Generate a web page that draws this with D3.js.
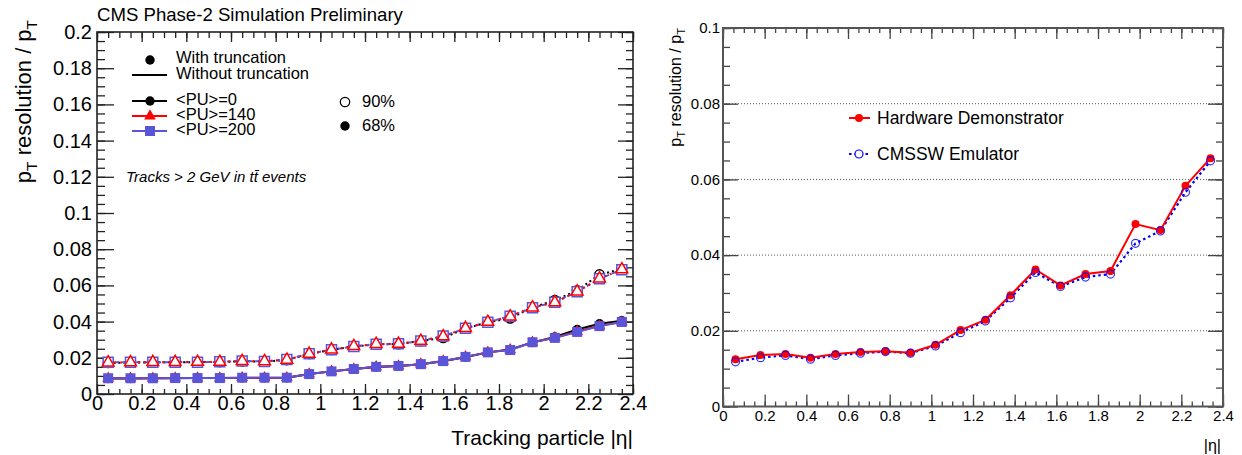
<!DOCTYPE html>
<html>
<head>
<meta charset="utf-8">
<script src="https://cdn.jsdelivr.net/npm/d3@7"></script>
<style>
  body { margin: 0; background: #fff; }
  svg { font-family: "Liberation Sans", Arial, sans-serif; }
</style>
</head>
<body>
<svg id="mySVG" width="1242" height="455"></svg>
<script>
// ---- data: left panel (truncation study) ----
const etaLeft = [0.05, 0.15, 0.25, 0.35, 0.45, 0.55, 0.65, 0.75, 0.85, 0.95, 1.05, 1.15,
                 1.25, 1.35, 1.45, 1.55, 1.65, 1.75, 1.85, 1.95, 2.05, 2.15, 2.25, 2.35];
const res68pu0   = [0.0086, 0.0086, 0.0087, 0.0087, 0.0088, 0.0088, 0.0089, 0.0089, 0.0090, 0.0110, 0.0125, 0.0138,
                    0.0149, 0.0155, 0.0164, 0.0181, 0.0205, 0.0230, 0.0246, 0.0285, 0.0315, 0.0356, 0.0388, 0.0405];
const res68pu140 = [0.0087, 0.0087, 0.0087, 0.0088, 0.0088, 0.0088, 0.0090, 0.0090, 0.0090, 0.0110, 0.0125, 0.0138,
                    0.0150, 0.0155, 0.0165, 0.0182, 0.0205, 0.0230, 0.0244, 0.0286, 0.0311, 0.0345, 0.0377, 0.0398];
const res68pu200 = [0.0087, 0.0087, 0.0087, 0.0088, 0.0088, 0.0088, 0.0090, 0.0090, 0.0090, 0.0110, 0.0125, 0.0138,
                    0.0150, 0.0155, 0.0165, 0.0182, 0.0205, 0.0230, 0.0243, 0.0286, 0.0310, 0.0343, 0.0375, 0.0398];
const res90pu0   = [0.0172, 0.0174, 0.0175, 0.0176, 0.0176, 0.0177, 0.0181, 0.0179, 0.0188, 0.0222, 0.0244, 0.0262,
                    0.0274, 0.0276, 0.0292, 0.0310, 0.0362, 0.0396, 0.0418, 0.0478, 0.0518, 0.0572, 0.0660, 0.0690];
const res90pu140 = [0.0174, 0.0175, 0.0176, 0.0176, 0.0177, 0.0177, 0.0182, 0.0181, 0.0189, 0.0222, 0.0245, 0.0264,
                    0.0276, 0.0277, 0.0293, 0.0318, 0.0364, 0.0398, 0.0428, 0.0478, 0.0506, 0.0566, 0.0638, 0.0688];
const res90pu200 = [0.0175, 0.0175, 0.0175, 0.0176, 0.0176, 0.0178, 0.0182, 0.0180, 0.0190, 0.0223, 0.0245, 0.0263,
                    0.0275, 0.0277, 0.0293, 0.0320, 0.0363, 0.0397, 0.0430, 0.0477, 0.0507, 0.0565, 0.0637, 0.0687];
const leftXTicks = [0, 0.2, 0.4, 0.6, 0.8, 1, 1.2, 1.4, 1.6, 1.8, 2, 2.2, 2.4];
const leftYTicks = [0, 0.02, 0.04, 0.06, 0.08, 0.1, 0.12, 0.14, 0.16, 0.18, 0.2];

// ---- data: right panel (hardware vs emulator) ----
const etaRight = [0.06, 0.18, 0.30, 0.42, 0.54, 0.66, 0.78, 0.90, 1.02, 1.14,
                  1.26, 1.38, 1.50, 1.62, 1.74, 1.86, 1.98, 2.10, 2.22, 2.34];
const hardware = [0.0125, 0.0136, 0.0139, 0.0129, 0.0139, 0.0144, 0.0146, 0.0142, 0.0163, 0.0202,
                  0.0229, 0.0294, 0.0362, 0.0320, 0.0350, 0.0358, 0.0482, 0.0466, 0.0583, 0.0656];
const emulator = [0.0118, 0.0129, 0.0135, 0.0125, 0.0135, 0.0141, 0.0145, 0.0141, 0.0160, 0.0195,
                  0.0226, 0.0287, 0.0354, 0.0317, 0.0342, 0.0350, 0.0431, 0.0464, 0.0566, 0.0649];
const rightXTicks = [0, 0.2, 0.4, 0.6, 0.8, 1, 1.2, 1.4, 1.6, 1.8, 2, 2.2, 2.4];
const rightYTicks = [0, 0.02, 0.04, 0.06, 0.08, 0.1];

const fmt = d => String(+d.toFixed(3));
const blue9 = "#5954d8";

var svg = d3.select("#mySVG");

// minor tick positions from lo to hi at given step
function minors(lo, hi, step) {
    return d3.range(Math.round((hi - lo) / step) + 1).map(i => lo + i * step);
}

// draw a ROOT style frame with inward ticks on all four sides
function frame(g, x, y, o) {
    const [x0, x1] = x.range();
    const [y0, y1] = y.range();
    const xMin = minors(x.domain()[0], x.domain()[1], o.xMinor);
    const yMin = minors(y.domain()[0], y.domain()[1], o.yMinor);

    g.append("g").attr("transform", `translate(0,${y0})`)
        .call(d3.axisBottom(x).tickValues(xMin).tickSize(-o.xMinLen).tickSizeOuter(0).tickFormat(""));
    g.append("g").attr("transform", `translate(0,${y0})`)
        .call(d3.axisBottom(x).tickValues(o.xTicks).tickSize(-o.xMajLen).tickSizeOuter(0)
            .tickPadding(o.xPad).tickFormat(fmt))
        .selectAll("text").attr("font-size", o.font).attr("fill", "#000");
    g.append("g").attr("transform", `translate(0,${y1})`)
        .call(d3.axisTop(x).tickValues(xMin).tickSize(-o.xMinLenTop).tickSizeOuter(0).tickFormat(""));
    g.append("g").attr("transform", `translate(0,${y1})`)
        .call(d3.axisTop(x).tickValues(o.xTicks).tickSize(-o.xMajLenTop).tickSizeOuter(0).tickFormat(""));

    g.append("g").attr("transform", `translate(${x0},0)`)
        .call(d3.axisLeft(y).tickValues(yMin).tickSize(-o.yMinLen).tickSizeOuter(0).tickFormat(""));
    g.append("g").attr("transform", `translate(${x0},0)`)
        .call(d3.axisLeft(y).tickValues(o.yTicks).tickSize(-o.yMajLen).tickSizeOuter(0)
            .tickPadding(o.yPad).tickFormat(fmt))
        .selectAll("text").attr("font-size", o.font).attr("fill", "#000");
    g.append("g").attr("transform", `translate(${x1},0)`)
        .call(d3.axisRight(y).tickValues(yMin).tickSize(-o.yMinLenR).tickSizeOuter(0).tickFormat(""));
    g.append("g").attr("transform", `translate(${x1},0)`)
        .call(d3.axisRight(y).tickValues(o.yTicks).tickSize(-o.yMajLenR).tickSizeOuter(0).tickFormat(""));

    g.selectAll(".domain").remove();
    g.selectAll(".tick line").attr("stroke", o.tickColor).attr("stroke-width", 1.3);

    g.append("rect")
        .attr("x", x0).attr("y", y1)
        .attr("width", x1 - x0).attr("height", y0 - y1)
        .attr("fill", "none").attr("stroke", o.frameColor).attr("stroke-width", o.frameWidth);
}

// p_T resolution / p_T title with subscripts
function ptTitle(g, cx, top, size) {
    const t = g.append("text")
        .attr("transform", `translate(${cx},${top}) rotate(-90)`)
        .attr("text-anchor", "end")
        .attr("dy", "0.35em")
        .attr("font-size", size);
    t.append("tspan").text("p");
    t.append("tspan").attr("font-size", size * 0.7).attr("dy", size * 0.3).text("T");
    t.append("tspan").attr("dy", -size * 0.3).text(" resolution / p");
    t.append("tspan").attr("font-size", size * 0.7).attr("dy", size * 0.3).text("T");
}

const sym = {
    circle: d3.symbol(d3.symbolCircle, 70),
    triangle: d3.symbol(d3.symbolTriangle, 60),
    square: d3.symbol(d3.symbolSquare, 100)
};

// ================= LEFT PANEL =================
var xL = d3.scaleLinear().domain([0, 2.4]).range([97, 633]);
var yL = d3.scaleLinear().domain([0, 0.2]).range([394, 32]);
var gL = svg.append("g");

frame(gL, xL, yL, {
    xTicks: leftXTicks, yTicks: leftYTicks, xMinor: 0.05, yMinor: 0.005,
    xMajLen: 10, xMinLen: 5, xMajLenTop: 10, xMinLenTop: 6,
    yMajLen: 17, yMinLen: 8, yMajLenR: 15, yMinLenR: 7,
    xPad: 2, yPad: 5, font: 20, tickColor: "#222", frameColor: "#222", frameWidth: 1.6
});

const lineL = d3.line().x((d, i) => xL(etaLeft[i])).y(d => yL(d));

// drawing order: black under blue under red (as in the picture)
const series90 = [
    { v: res90pu0, color: "#000", dash: "2,3", sym: "circle", fill: "none" },
    { v: res90pu200, color: blue9, dash: "4,3", sym: "square", fill: "#fff" },
    { v: res90pu140, color: "#f00", dash: "2,4", sym: "triangle", fill: "#fff" }
];
const series68 = [
    { v: res68pu0, color: "#000", sym: "circle" },
    { v: res68pu140, color: "#f00", sym: "triangle" },
    { v: res68pu200, color: blue9, sym: "square" }
];

// 90% curves: dashed lines, open markers
series90.forEach(s => {
    gL.append("path").datum(s.v)
        .attr("d", lineL)
        .attr("fill", "none").attr("stroke", s.color)
        .attr("stroke-width", 2).attr("stroke-dasharray", s.dash);
});
series90.forEach(s => {
    gL.append("g").selectAll("path").data(s.v).join("path")
        .attr("d", sym[s.sym])
        .attr("transform", (d, i) => `translate(${xL(etaLeft[i])},${yL(d)})`)
        .attr("fill", s.fill)
        .attr("stroke", s.color).attr("stroke-width", 1.5);
});

// 68% curves: solid lines, filled markers
series68.forEach(s => {
    gL.append("path").datum(s.v)
        .attr("d", lineL)
        .attr("fill", "none").attr("stroke", s.color).attr("stroke-width", 2);
    gL.append("g").selectAll("path").data(s.v).join("path")
        .attr("d", sym[s.sym])
        .attr("transform", (d, i) => `translate(${xL(etaLeft[i])},${yL(d)})`)
        .attr("fill", s.color);
});

// titles
svg.append("text").attr("x", 97).attr("y", 21).attr("font-size", 18.6)
    .text("CMS Phase-2 Simulation Preliminary");
ptTitle(svg, 23, 20, 22);
svg.append("text").attr("x", 633).attr("y", 445).attr("text-anchor", "end")
    .attr("font-size", 21).text("Tracking particle |η|");

// legend (left)
var legL = svg.append("g").attr("font-size", 16.5);
legL.append("path").attr("d", sym.circle).attr("transform", "translate(150,60)").attr("fill", "#000");
legL.append("text").attr("x", 176).attr("y", 57).attr("dy", "0.35em").text("With truncation");
legL.append("line").attr("x1", 132).attr("x2", 167).attr("y1", 75).attr("y2", 75)
    .attr("stroke", "#000").attr("stroke-width", 2);
legL.append("text").attr("x", 176).attr("y", 73).attr("dy", "0.35em").text("Without truncation");

const puLegend = [
    { label: "<PU>=0", color: "#000", sym: "circle", y: 101 },
    { label: "<PU>=140", color: "#f00", sym: "triangle", y: 116 },
    { label: "<PU>=200", color: blue9, sym: "square", y: 131 }
];
puLegend.forEach(p => {
    legL.append("line").attr("x1", 132).attr("x2", 167).attr("y1", p.y).attr("y2", p.y)
        .attr("stroke", p.color).attr("stroke-width", 2);
    legL.append("path").attr("d", sym[p.sym]).attr("transform", `translate(150,${p.y})`)
        .attr("fill", p.color);
    legL.append("text").attr("x", 176).attr("y", p.y - 1.5).attr("dy", "0.35em").text(p.label);
});
legL.append("path").attr("d", sym.circle).attr("transform", "translate(345,102)")
    .attr("fill", "none").attr("stroke", "#000").attr("stroke-width", 1.2);
legL.append("text").attr("x", 362).attr("y", 101).attr("dy", "0.35em").text("90%");
legL.append("path").attr("d", sym.circle).attr("transform", "translate(345,126)").attr("fill", "#000");
legL.append("text").attr("x", 362).attr("y", 125).attr("dy", "0.35em").text("68%");

svg.append("text").attr("x", 126).attr("y", 177).attr("dy", "0.35em")
    .attr("font-size", 15).attr("font-style", "italic")
    .text("Tracks > 2 GeV in tt\u0304 events");

// ================= RIGHT PANEL =================
var xR = d3.scaleLinear().domain([0, 2.4]).range([723, 1223]);
var yR = d3.scaleLinear().domain([0, 0.1]).range([406.5, 28]);
var gR = svg.append("g");

// dotted horizontal grid
gR.append("g").selectAll("line").data(rightYTicks.filter(d => d > 0 && d < 0.1)).join("line")
    .attr("x1", 723).attr("x2", 1223)
    .attr("y1", d => yR(d)).attr("y2", d => yR(d))
    .attr("stroke", "#555").attr("stroke-width", 1).attr("stroke-dasharray", "1,2");

frame(gR, xR, yR, {
    xTicks: rightXTicks, yTicks: rightYTicks, xMinor: 0.05, yMinor: 0.005,
    xMajLen: 12, xMinLen: 5, xMajLenTop: 11, xMinLenTop: 5,
    yMajLen: 15, yMinLen: 7, yMajLenR: 15, yMinLenR: 7,
    xPad: 4, yPad: 3, font: 15, tickColor: "#444", frameColor: "#555", frameWidth: 2
});

const lineR = d3.line().x((d, i) => xR(etaRight[i])).y(d => yR(d));

gR.append("path").datum(emulator).attr("d", lineR)
    .attr("fill", "none").attr("stroke", "#00f").attr("stroke-width", 2.2).attr("stroke-dasharray", "2.5,3");
gR.append("path").datum(hardware).attr("d", lineR)
    .attr("fill", "none").attr("stroke", "#f00").attr("stroke-width", 2);
gR.append("g").selectAll("circle").data(hardware).join("circle")
    .attr("cx", (d, i) => xR(etaRight[i])).attr("cy", d => yR(d)).attr("r", 4)
    .attr("fill", "#f00");
gR.append("g").selectAll("circle").data(emulator).join("circle")
    .attr("cx", (d, i) => xR(etaRight[i])).attr("cy", d => yR(d)).attr("r", 4)
    .attr("fill", "none").attr("stroke", "#00f").attr("stroke-width", 1.2).attr("stroke-opacity", 0.8);

ptTitle(svg, 675, 28, 16);
svg.append("text").attr("x", 1221).attr("y", 451).attr("text-anchor", "end")
    .attr("font-size", 16).text("|η|");

// legend (right)
var legR = svg.append("g").attr("font-size", 17.5);
legR.append("line").attr("x1", 849).attr("x2", 870).attr("y1", 118).attr("y2", 118)
    .attr("stroke", "#f00").attr("stroke-width", 2);
legR.append("circle").attr("cx", 859).attr("cy", 118).attr("r", 4).attr("fill", "#f00");
legR.append("text").attr("x", 877).attr("y", 118).attr("dy", "0.35em").text("Hardware Demonstrator");
legR.append("line").attr("x1", 849).attr("x2", 870).attr("y1", 154).attr("y2", 154)
    .attr("stroke", "#00f").attr("stroke-width", 2).attr("stroke-dasharray", "2.5,3");
legR.append("circle").attr("cx", 859).attr("cy", 154).attr("r", 4)
    .attr("fill", "#fff").attr("stroke", "#00f").attr("stroke-width", 1.2);
legR.append("text").attr("x", 877).attr("y", 154).attr("dy", "0.35em").text("CMSSW Emulator");
</script>
</body>
</html>
